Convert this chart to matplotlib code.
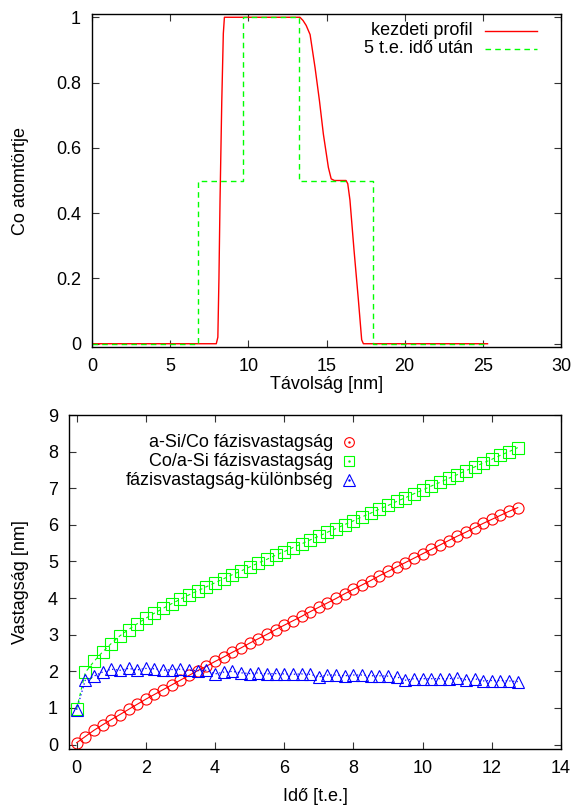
import matplotlib
matplotlib.use("Agg")
import matplotlib.pyplot as plt

plt.rcParams['font.family'] = ['Liberation Sans', 'DejaVu Sans']

# ---- top panel data ----
prof_x = [0, 7.95, 8.05, 8.12, 8.19, 8.30, 8.40, 8.47, 13.30, 13.50, 13.70, 13.95,
          14.27, 14.55, 14.80, 15.12, 15.30, 15.50, 16.25, 16.36, 16.50, 16.76, 17.04,
          17.25, 17.36, 25.3]
prof_y = [0, 0, 0.02, 0.20, 0.44, 0.74, 0.95, 1.0, 1.0, 0.99, 0.975, 0.947,
          0.845, 0.744, 0.642, 0.54, 0.505, 0.50, 0.50, 0.49, 0.44, 0.287, 0.134,
          0.012, 0, 0]
after_x = [0, 6.75, 6.75, 9.65, 9.65, 13.25, 13.25, 18.0, 18.0, 25.3]
after_y = [0, 0, 0.5, 0.5, 1.0, 1.0, 0.5, 0.5, 0, 0]

# ---- bottom panel data ----
t = [0, 0.25, 0.5, 0.75, 1, 1.25, 1.5, 1.75, 2, 2.25, 2.5, 2.75, 3, 3.25, 3.5, 3.75,
     4, 4.25, 4.5, 4.75, 5, 5.25, 5.5, 5.75, 6, 6.25, 6.5, 6.75, 7, 7.25, 7.5, 7.75,
     8, 8.25, 8.5, 8.75, 9, 9.25, 9.5, 9.75, 10, 10.25, 10.5, 10.75, 11, 11.25, 11.5,
     11.75, 12, 12.25, 12.5, 12.75]
asico = [0.05, 0.22, 0.39, 0.54, 0.68, 0.82, 0.96, 1.10, 1.24, 1.37, 1.50, 1.63, 1.76,
         1.89, 2.02, 2.14, 2.27, 2.39, 2.52, 2.64, 2.77, 2.89, 3.01, 3.14, 3.26, 3.38,
         3.50, 3.63, 3.75, 3.87, 3.99, 4.12, 4.24, 4.36, 4.48, 4.61, 4.73, 4.85, 4.97,
         5.09, 5.21, 5.33, 5.45, 5.57, 5.69, 5.80, 5.92, 6.04, 6.15, 6.26, 6.37, 6.47]
coasi = [0.97, 1.97, 2.27, 2.53, 2.76, 2.97, 3.14, 3.30, 3.45, 3.59, 3.72, 3.85, 3.97,
         4.09, 4.20, 4.31, 4.42, 4.53, 4.64, 4.74, 4.85, 4.96, 5.06, 5.17, 5.27, 5.38,
         5.48, 5.59, 5.69, 5.80, 5.90, 6.01, 6.11, 6.22, 6.32, 6.43, 6.53, 6.64, 6.74,
         6.85, 6.95, 7.06, 7.16, 7.27, 7.37, 7.48, 7.58, 7.69, 7.79, 7.90, 8.00, 8.11]
diff = [0.95, 1.76, 1.87, 1.98, 2.06, 2.03, 2.08, 2.04, 2.08, 2.07, 2.03, 2.05, 2.06,
        2.03, 2.02, 2.03, 1.93, 1.98, 2.00, 1.96, 1.94, 1.96, 1.93, 1.94, 1.93, 1.92,
        1.93, 1.92, 1.85, 1.90, 1.90, 1.88, 1.90, 1.90, 1.88, 1.88, 1.87, 1.85, 1.76,
        1.80, 1.80, 1.80, 1.80, 1.80, 1.82, 1.77, 1.80, 1.74, 1.75, 1.75, 1.74, 1.72]

legend_top = ["kezdeti profil", "5 t.e. idő után"]
legend_bot = ["a-Si/Co fázisvastagság", "Co/a-Si fázisvastagság", "fázisvastagság-különbség"]

RED = '#ff0000'
GREEN = '#00ff00'
BLUE = '#0000ff'
FS = 13

fig = plt.figure(figsize=(5.75, 8.05), dpi=100)
W, H = 575, 805

def axes_px(l, t_, r, b):
    return fig.add_axes([l / W, 1 - b / H, (r - l) / W, (b - t_) / H])

def style(ax):
    ax.tick_params(direction='in', length=5, width=0.8, top=True, right=True,
                   labelsize=FS, color='#333333')
    ax.tick_params(axis='x', pad=8)
    ax.tick_params(axis='y', pad=8)
    for s in ax.spines.values():
        s.set_linewidth(1.0)

# ---- top ----
ax1 = axes_px(92, 14, 561, 347)
ax1.plot(prof_x, prof_y, color=RED, lw=1.0)
ax1.plot(after_x, after_y, color=GREEN, lw=1.0, ls=(0, (4, 3)))
ax1.set_xlim(0, 30)
ax1.set_ylim(-0.01, 1.01)
ax1.set_xticks([0, 5, 10, 15, 20, 25, 30])
ax1.set_yticks([0, 0.2, 0.4, 0.6, 0.8, 1])
ax1.set_yticklabels(['0', '0.2', '0.4', '0.6', '0.8', '1'])
style(ax1)
ax1.set_xlabel("Távolság [nm]", fontsize=FS)
ax1.set_ylabel("Co atomtörtje", fontsize=FS)
ax1.xaxis.set_label_coords(0.5, -0.087)
ax1.yaxis.set_label_coords(-0.135, 0.5)
# legend
ly = [0.949, 0.895]
for txt, yy, c, ls in zip(legend_top, ly, [RED, GREEN], ['-', (0, (4, 3))]):
    ax1.text(0.812, yy, txt, transform=ax1.transAxes, ha='right', va='center', fontsize=FS)
    ax1.plot([0.838, 0.949], [yy, yy], transform=ax1.transAxes, color=c, lw=1.0, ls=ls)

# ---- bottom ----
ax2 = axes_px(69, 415, 561, 749)
ax2.plot(t, asico, color=RED, lw=0.8, ls='-', marker='o', ms=8, mfc='none',
         mec=RED, mew=0.8)
ax2.plot(t, coasi, color=GREEN, lw=0.8, ls=(0, (3, 3)), marker='s', ms=8, mfc='none',
         mec=GREEN, mew=0.8)
ax2.plot(t, diff, color=BLUE, lw=0.9, ls=(0, (1, 2)), marker='^', ms=8.5, mfc='none',
         mec=BLUE, mew=0.8)
ax2.set_xlim(-0.22, 14)
ax2.set_ylim(-0.12, 9)
ax2.set_xticks(range(0, 15, 2))
ax2.set_yticks(range(0, 10))
style(ax2)
ax2.set_xlabel("Idő [t.e.]", fontsize=FS)
ax2.set_ylabel("Vastagság [nm]", fontsize=FS)
ax2.xaxis.set_label_coords(0.5, -0.117)
ax2.yaxis.set_label_coords(-0.082, 0.5)
ly2 = [0.919, 0.862, 0.805]
for txt, yy, c, m, ms in zip(legend_bot, ly2, [RED, GREEN, BLUE], ['o', 's', '^'],
                             [7, 7.5, 8]):
    ax2.text(0.537, yy, txt, transform=ax2.transAxes, ha='right', va='center', fontsize=FS)
    ax2.plot([0.569], [yy], transform=ax2.transAxes, marker=m, ms=ms, mfc='none',
             mec=c, mew=0.8, ls='none')
    ax2.plot([0.569], [yy], transform=ax2.transAxes, marker='.', ms=1.5, color=c, ls='none')

fig.savefig("out.png", dpi=100)
